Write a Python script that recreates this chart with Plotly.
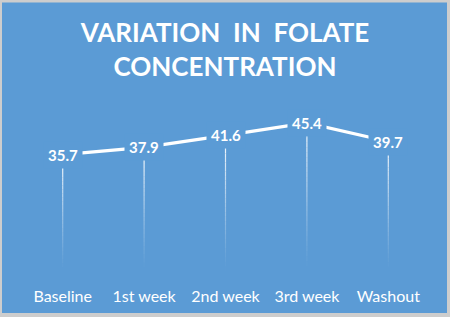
import plotly.graph_objects as go

categories = ["Baseline", "1st week", "2nd week", "3rd week", "Washout"]
values = [35.7, 37.9, 41.6, 45.4, 39.7]
title_text = "VARIATION\u00a0\u00a0IN\u00a0\u00a0FOLATE<br>CONCENTRATION"

W, H = 450, 317
L, R, T, B = 22, 21, 90, 44
BLUE = "#5B9BD5"
GREY = "#CDCDCD"
FONT = "Lato"

pw = W - L - R
ph = H - T - B
def px_x(p):
    return (p - L) / pw
def px_y(p):
    return (H - B - p) / ph

fig = go.Figure()
fig.add_trace(go.Scatter(
    x=list(range(len(categories))), y=values, mode="lines",
    line=dict(color="white", width=3.2), hoverinfo="skip", showlegend=False,
))

shapes = [dict(type="rect", xref="paper", yref="paper", layer="below",
               x0=px_x(2), x1=px_x(447), y0=px_y(315.5), y1=px_y(1.5),
               fillcolor=BLUE, line=dict(width=0))]
N = 30
for i, v in enumerate(values):
    for k in range(N):
        y_top = v * (1 - k / N)
        y_bot = v * (1 - (k + 1) / N)
        op = max(0.0, 1 - (k + 0.5) / N) ** 1.2
        shapes.append(dict(type="line", xref="x", yref="y", layer="above",
                           x0=i, x1=i, y0=y_bot, y1=y_top,
                           line=dict(color=f"rgba(255,255,255,{op:.3f})", width=1.2)))

annotations = []
for i, v in enumerate(values):
    annotations.append(dict(x=i, y=v, xref="x", yref="y", text=f"{v:.1f}",
                            showarrow=False, xanchor="center", yanchor="middle",
                            bgcolor=BLUE, borderpad=4,
                            font=dict(family=FONT, size=15, color="white", weight="bold")))

fig.update_layout(
    width=W, height=H,
    margin=dict(l=L, r=R, t=T, b=B),
    paper_bgcolor=GREY, plot_bgcolor="rgba(0,0,0,0)",
    title=dict(text=title_text, xref="container", x=0.5, xanchor="center",
               yref="container", y=1 - 42 / H, yanchor="middle",
               font=dict(family=FONT, size=26, color="white", weight="bold")),
    shapes=shapes, annotations=annotations,
    xaxis=dict(tickmode="array", tickvals=list(range(len(categories))), ticktext=categories,
               range=[-0.5, len(categories) - 0.5], showgrid=False, zeroline=False,
               showline=False, ticks="", ticklabelstandoff=14,
               tickfont=dict(family=FONT, size=16, color="white")),
    yaxis=dict(range=[0, 55.5], visible=False, showgrid=False, zeroline=False),
)

fig.write_html("out.html", config={"displayModeBar": False},
               post_script="document.body.style.margin='0px';")
